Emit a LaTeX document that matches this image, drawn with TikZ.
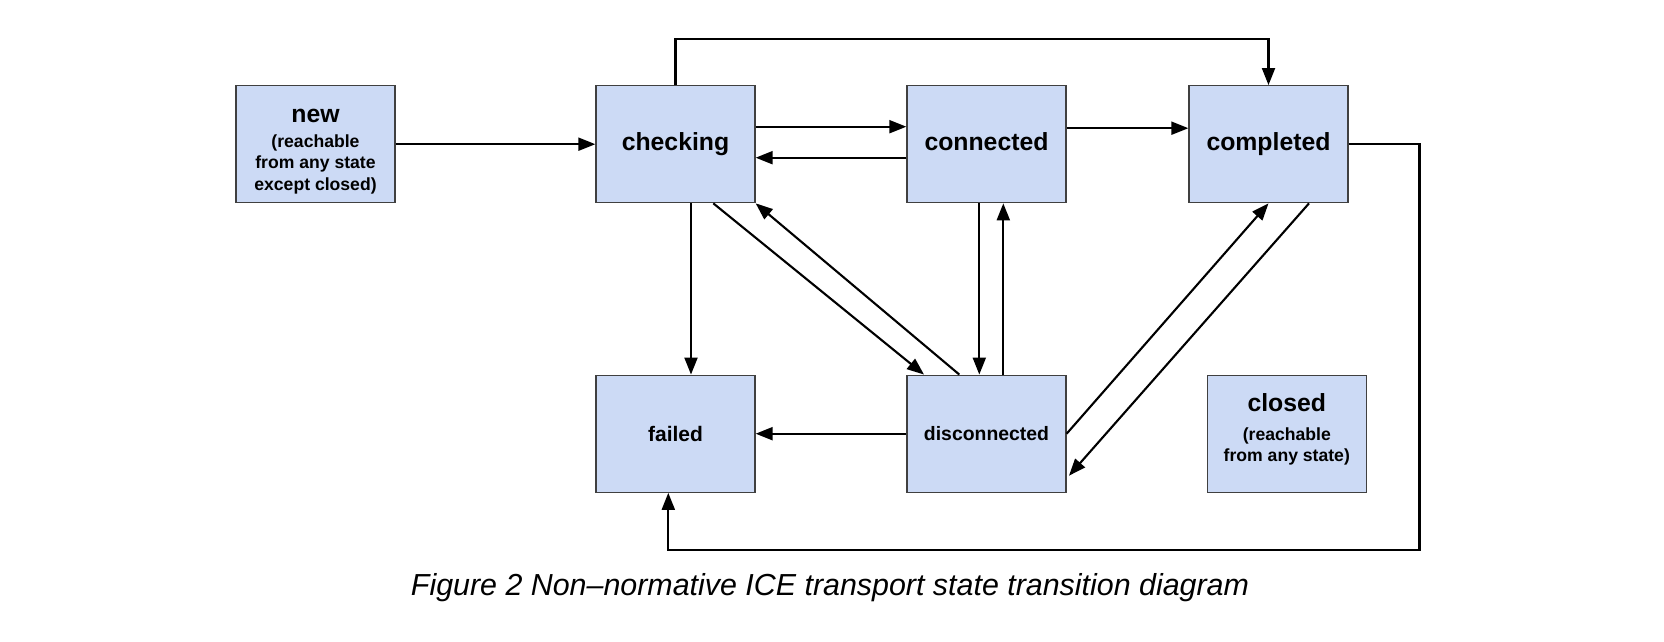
\documentclass[tikz,border=0pt]{standalone}
\usepackage{fontspec}
\setmainfont{Liberation Sans}
\usetikzlibrary{arrows.meta}
\definecolor{boxblue}{RGB}{204,218,245}
\definecolor{boxline}{RGB}{64,64,64}
\newcommand\bigfont{\fontsize{12.4}{14}\selectfont\bfseries}
\newcommand\notefont{\fontsize{8.8}{10.7}\selectfont\bfseries}
\tikzstyle{state}=[draw=boxline,fill=boxblue,line width=0.65pt,minimum width=79.5pt,minimum height=58.5pt,inner sep=0pt,align=center,font=\bigfont]
\tikzstyle{edge} = [draw,line width=1.05pt,-{Triangle[length=8.5pt,width=6.5pt]}]
\tikzstyle{caption} = [font=\fontsize{15.2}{18}\selectfont\itshape]

\begin{document}
\begin{tikzpicture}[x=0.5pt,y=-0.5pt]
				\useasboundingbox (0,0) rectangle (1664,642);
				% First we draw the states
				\foreach \pos/\name in {{(675.5,144.2)/checking}, {(986.5,144.2)/connected}, {(1268.5,144.2)/completed}}
				\node[state, text height=0.89em, text depth=0.22em] (\name) at \pos {\name};
				\node[state, font=\fontsize{10.5}{12}\selectfont\bfseries] (failed) at (675.5,433.7) {failed};
				\node[state, font=\fontsize{9.7}{11}\selectfont\bfseries] (disconnected) at (986.5,433.7) {disconnected};
				\node[state, label={[align=center, font=\notefont, yshift=-3.7pt]center:{\bigfont new\\[1.8pt] (reachable\\ from any state\\ except closed)}}] (new) at (315.5,144.2) {};
				\node[state, label={[align=center, font=\notefont, yshift=2.3pt]center:{\bigfont closed\\[3.6pt] (reachable\\ from any state)}}] (closed) at (1286.8,434.2) {};
				\coordinate (loop) at (1419.5,550);

				% Connect states with transitions
				\foreach \source/\dest in {{(new)}/{(checking)}, {(disconnected)}/{(failed)},
										{([yshift=8.75pt]checking.east)}/{([yshift=8.75pt]connected.west)},
										{([yshift=-6.75pt]connected.west)}/{([yshift=-6.75pt]checking.east)},
										{([yshift=8pt]connected.east)}/{([yshift=8pt]completed.west)},
										{([xshift=7.75pt]checking.south)}/{([xshift=7.75pt]failed.north)},
										{([xshift=18.9pt]checking.south)}/{([xshift=-31.25pt]disconnected.north)},
										{([xshift=-13.6pt]disconnected.north)}/{(checking.south east)},
										{([xshift=-3.6pt]connected.south)}/{([xshift=-3.6pt]disconnected.north)},
										{([xshift=8.4pt]disconnected.north)}/{([xshift=8.4pt]connected.south)},
										{(disconnected.east)}/{(completed.south)},
										{([xshift=20.25pt]completed.south)}/{([xshift=1.15pt,yshift=-21pt]disconnected.east)}}
				\path[edge] \source -- \dest;

				\path[edge] (checking.north) -- ++(0,-45.7) -| (completed.north);
				\path[edge] (completed.east) -| (loop) -| ([xshift=-3.6pt]failed.south);

				\node[caption] (title) at (830,588) {Figure 2 Non–normative ICE transport state transition diagram};
			\end{tikzpicture}
\end{document}
